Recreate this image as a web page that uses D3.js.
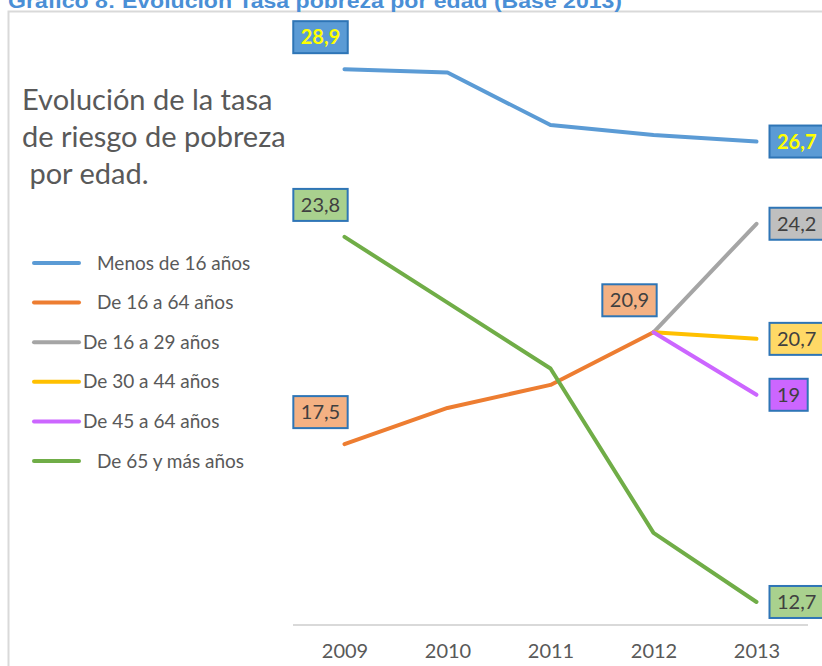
<!DOCTYPE html>
<html>
<head>
<meta charset="utf-8">
<script src="https://cdnjs.cloudflare.com/ajax/libs/d3/7.8.5/d3.min.js"></script>
<style>
	body { margin: 0; background: #fff; }
	svg { display: block; }
</style>
</head>
<body>
<div class="chart"></div>
<script>

// Data

var
	years = ['2009', '2010', '2011', '2012', '2013'],
	seriesNames = ['Menos de 16 años', 'De 16 a 64 años', 'De 16 a 29 años', 'De 30 a 44 años', 'De 45 a 64 años', 'De 65 y más años'],
	seriesColors = ['#5b9bd5', '#ed7d31', '#a5a5a5', '#ffc000', '#cc66ff', '#70ad47'],
	labelFills = ['#5b9bd5', '#f4b183', '#bfbfbf', '#ffd966', '#cc66ff', '#a9d18e'],

	menos16 = [28.9, 28.8, 27.2, 26.9, 26.7],
	de16a64 = [17.5, 18.6, 19.3, 20.9, null],
	de16a29 = [null, null, null, 20.9, 24.2],
	de30a44 = [null, null, null, 20.9, 20.7],
	de45a64 = [null, null, null, 20.9, 19.0],
	de65 = [23.8, 21.8, 19.8, 14.8, 12.7],

	seriesValues = [menos16, de16a64, de16a29, de30a44, de45a64, de65],

	// which points carry a value box: [series, year index, side]
	labelPoints = [
		[0, 0, 'above'], [0, 4, 'right'],
		[1, 0, 'above'], [1, 3, 'above'],
		[2, 4, 'right'], [3, 4, 'right'], [4, 4, 'right'],
		[5, 0, 'above'], [5, 4, 'right']
	];

var
	width = 822,
	height = 666,
	font = 'Lato, "Open Sans", sans-serif',

	svg = d3.select('.chart').append('svg')
		.attr('width', width)
		.attr('height', height),

	x = d3.scalePoint()
		.domain(years)
		.range([293, 808])
		.padding(0.5),

	y = d3.scaleLinear()
		.domain([12, 30])
		.range([625, 33]);

// Frame and header

svg.append('rect')
	.attr('x', 8.5)
	.attr('y', 11.5)
	.attr('width', width)
	.attr('height', height)
	.style('fill', 'none')
	.style('stroke', '#d9d9d9')
	.style('stroke-width', 2);

svg.append('text')
	.attr('x', 8)
	.attr('y', 8)
	.attr('textLength', 614)
	.attr('lengthAdjust', 'spacingAndGlyphs')
	.style('font-family', 'Arial, "Liberation Sans", sans-serif')
	.style('font-weight', 'bold')
	.style('font-size', '20px')
	.style('fill', '#4a8fd6')
	.text('Gráfico 8: Evolución Tasa pobreza por edad (Base 2013)');

// Chart title

var titleLines = ['Evolución de la tasa', 'de riesgo de pobreza', ' por edad.'];

svg.append('text')
	.attr('x', 22)
	.attr('y', 110)
	.style('font-family', font)
	.style('font-size', '29px')
	.style('fill', '#595959')
	.style('white-space', 'pre')
	.selectAll('tspan')
	.data(titleLines)
	.enter()
	.append('tspan')
	.attr('x', 22)
	.attr('dy', function(d, i) { return i ? 37 : 0; })
	.text(function(d) { return d; });

// Axis

var xAxis = svg.append('g')
	.attr('transform', 'translate(0,' + y(12) + ')')
	.call(d3.axisBottom(x).tickSize(0).tickPadding(19));

xAxis.select('.domain')
	.attr('d', 'M293,0H808')
	.style('stroke', '#d9d9d9')
	.style('stroke-width', 2);

xAxis.selectAll('text')
	.style('font-family', font)
	.style('font-size', '20px')
	.style('fill', '#595959');

// Lines

var line = d3.line()
	.defined(function(d) { return d != null; })
	.x(function(d, i) { return x(years[i]); })
	.y(function(d) { return y(d); });

svg.append('g')
	.selectAll('path')
	.data(seriesValues)
	.enter()
	.append('path')
	.attr('d', line)
	.style('fill', 'none')
	.style('stroke', function(d, i) { return seriesColors[i]; })
	.style('stroke-width', 4)
	.style('stroke-linecap', 'round')
	.style('stroke-linejoin', 'round');

// Value boxes (right ones start just after the last point, upper ones sit above-left)

var boxes = svg.append('g')
	.selectAll('g')
	.data(labelPoints)
	.enter()
	.append('g')
	.attr('transform', function(d) {
		var px = x(years[d[1]]),
			py = y(seriesValues[d[0]][d[1]]);
		if (d[2] === 'right') return 'translate(' + (px + 13) + ',' + py + ')';
		return 'translate(' + (px - 24) + ',' + (py - 32) + ')';
	});

boxes.append('text')
	.attr('text-anchor', 'middle')
	.attr('dy', '0.36em')
	.style('font-family', font)
	.style('font-size', '20px')
	.style('font-weight', function(d) { return d[0] === 0 ? 'bold' : 'normal'; })
	.style('fill', function(d) { return d[0] === 0 ? '#ffff00' : '#404040'; })
	.text(function(d) {
		return d3.format('.1f')(seriesValues[d[0]][d[1]]).replace('.0', '').replace('.', ',');
	});

boxes.insert('rect', 'text')
	.each(function(d) {
		var txt = this.parentNode.querySelector('text'),
			w = txt.getComputedTextLength() + 15,
			x0 = d[2] === 'right' ? 0 : -w / 2;
		d3.select(txt).attr('x', x0 + w / 2);
		d3.select(this)
			.attr('x', x0)
			.attr('y', -16)
			.attr('width', w)
			.attr('height', 32);
	})
	.style('fill', function(d) { return labelFills[d[0]]; })
	.style('stroke', '#2e75b6')
	.style('stroke-width', 2);

// Legend

var legend = svg.append('g')
	.selectAll('g')
	.data(seriesNames)
	.enter()
	.append('g')
	.attr('transform', function(d, i) { return 'translate(0,' + (263 + i * 39.6) + ')'; });

legend.append('line')
	.attr('x1', 34)
	.attr('x2', 79)
	.style('stroke', function(d, i) { return seriesColors[i]; })
	.style('stroke-width', 4)
	.style('stroke-linecap', 'round');

legend.append('text')
	.attr('x', function(d, i) { return (i >= 2 && i <= 4) ? 83 : 97; })
	.attr('dy', '0.35em')
	.style('font-family', font)
	.style('font-size', '19px')
	.style('fill', '#595959')
	.text(function(d) { return d; });

</script>
</body>
</html>
